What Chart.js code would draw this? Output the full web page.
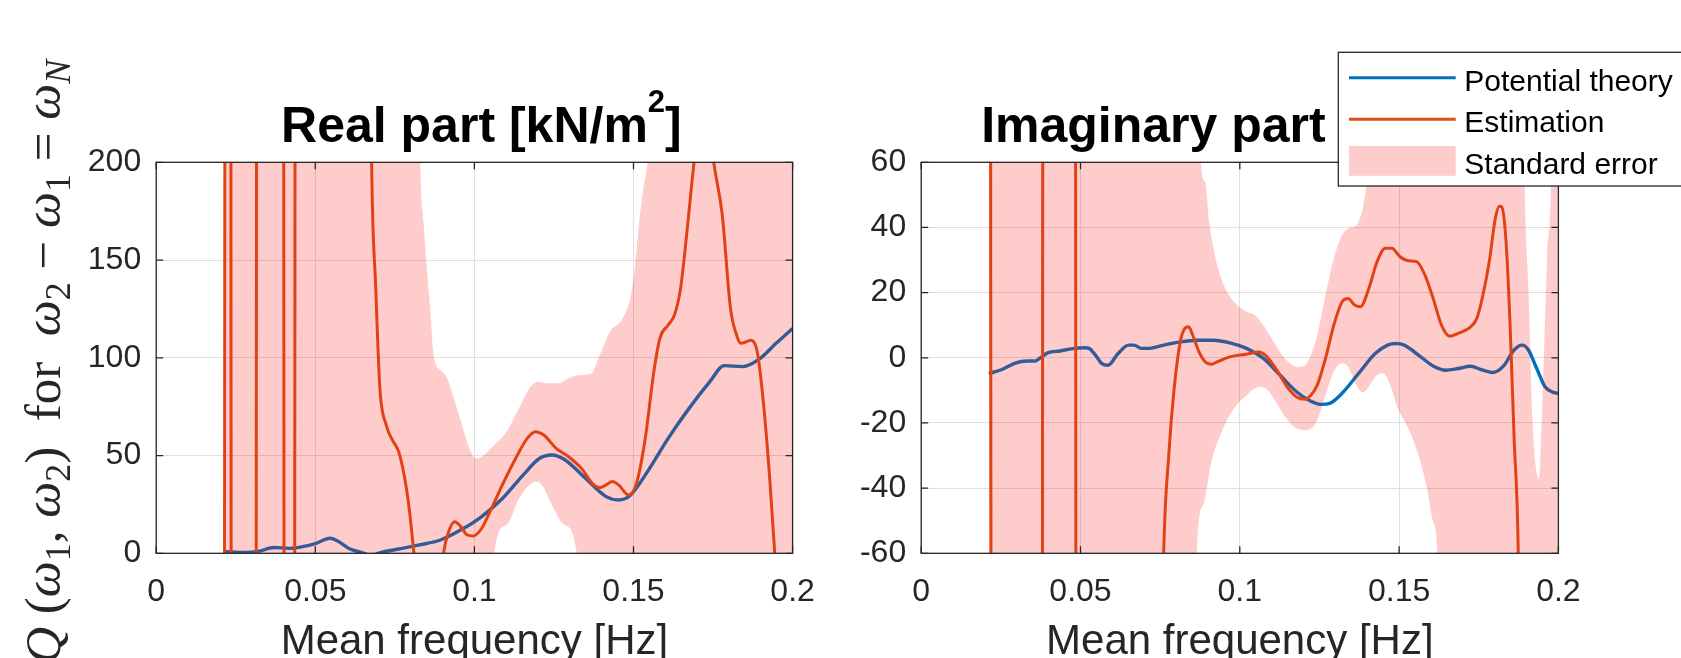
<!DOCTYPE html>
<html>
<head>
<meta charset="utf-8">
<script src="https://cdn.jsdelivr.net/npm/chart.js@4.4.1/dist/chart.umd.min.js"></script>
<style>
  html, body { margin: 0; padding: 0; background: #fff; }
  #wrap { position: relative; width: 1681px; height: 658px; overflow: hidden; background: #fff; }
  canvas { position: absolute; top: 0; }
  #real { left: 0; }
  #imag { left: 840px; }
</style>
</head>
<body>
<div id="wrap">
  <canvas id="real" width="840" height="700"></canvas>
  <canvas id="imag" width="841" height="700"></canvas>
</div>
<script>
// axis ticks
const xTicks = [0, 0.05, 0.1, 0.15, 0.2];
const xTickLabels = ['0', '0.05', '0.1', '0.15', '0.2'];
const realTicks = [0, 50, 100, 150, 200];
const imagTicks = [-60, -40, -20, 0, 20, 40, 60];
const seriesNames = ['Potential theory', 'Estimation', 'Standard error'];

// real part (freq in Hz, values in kN/m^2)
const realTheoryF = [0.0212, 0.0280, 0.0320, 0.0370, 0.0420, 0.0460, 0.0500, 0.0547, 0.0570, 0.0606, 0.0658, 0.0675, 0.0697, 0.0762, 0.0827, 0.0893, 0.0958, 0.1023, 0.1088, 0.1153, 0.1205, 0.1244, 0.1283, 0.1349, 0.1414, 0.1453, 0.1492, 0.1544, 0.1609, 0.1674, 0.1740, 0.1785, 0.1844, 0.1896, 0.1948, 0.2000];
const realTheoryV = [0.9, 0.4, 1, 3, 2.5, 3.4, 5, 7.7, 6.3, 2.5, -0.3, -1.5, 0, 2.2, 4.3, 6.8, 12, 18.8, 28, 40, 48.6, 50.3, 48, 38.4, 29, 27.3, 30, 41.8, 58.8, 74, 87.8, 96, 95.5, 99.4, 107.4, 115];

const realEstF = [0.0213, 0.0219, 0.0233, 0.0237, 0.0312, 0.0318, 0.0398, 0.0404, 0.0433, 0.0439, 0.0660, 0.0677, 0.0690, 0.0703, 0.0723, 0.0742, 0.0762, 0.0781, 0.0795, 0.0810, 0.0830, 0.0885, 0.0903, 0.0919, 0.0938, 0.0958, 0.0977, 0.0997, 0.1023, 0.1049, 0.1088, 0.1127, 0.1166, 0.1192, 0.1218, 0.1257, 0.1296, 0.1336, 0.1375, 0.1394, 0.1414, 0.1433, 0.1453, 0.1485, 0.1511, 0.1537, 0.1564, 0.1583, 0.1609, 0.1629, 0.1648, 0.1668, 0.1687, 0.1722, 0.1752, 0.1779, 0.1805, 0.1824, 0.1837, 0.1870, 0.1889, 0.1909, 0.1928, 0.1944, 0.1965, 0.2000];
const realEstV = [-300, 600, 600, -300, -300, 600, 600, -300, -300, 600, 500, 200, 135.5, 84.4, 65.6, 58, 52, 38.4, 23, 0, -30, -30, 0, 11, 16.2, 13.6, 9.4, 8.9, 12.8, 21.3, 35, 47.7, 58.8, 62.2, 60.5, 53.7, 49.4, 43.5, 35, 33.6, 35, 36.7, 35, 29.8, 36.7, 58.8, 93, 110, 116.8, 122, 135.5, 164.5, 195, 240, 200, 173, 125, 111.7, 107.4, 109, 103, 75.9, 38.4, 0, -60, -150];

const realUpperF = [0.0212, 0.0815, 0.0830, 0.0840, 0.0860, 0.0873, 0.0893, 0.0912, 0.0932, 0.0958, 0.0984, 0.1003, 0.1023, 0.1062, 0.1101, 0.1140, 0.1173, 0.1199, 0.1231, 0.1264, 0.1296, 0.1329, 0.1368, 0.1394, 0.1427, 0.1466, 0.1492, 0.1505, 0.1518, 0.1531, 0.1544, 0.1560, 0.2000];
const realUpperV = [400, 400, 200, 170, 127, 100, 93.8, 90.4, 81, 67.3, 53.7, 48.6, 49.4, 55.4, 62.2, 74.2, 84.4, 87.8, 87, 87, 89.5, 91.2, 92, 101.4, 113.4, 120.2, 132, 147.5, 169.6, 186.7, 200, 240, 400];
const realLowerF = [0.0212, 0.1040, 0.1062, 0.1101, 0.1140, 0.1173, 0.1192, 0.1212, 0.1244, 0.1283, 0.1322, 0.1345, 0.2000];
const realLowerV = [-200, -200, 0, 14.5, 28, 35, 36.7, 35, 24.7, 14.5, 0, -200, -200];

// imaginary part
const imagTheoryF = [0.0212, 0.0254, 0.0293, 0.0332, 0.0358, 0.0371, 0.0397, 0.0436, 0.0475, 0.0514, 0.0527, 0.0547, 0.0566, 0.0586, 0.0618, 0.0651, 0.0668, 0.0690, 0.0716, 0.0761, 0.0813, 0.0865, 0.0917, 0.0969, 0.1021, 0.1074, 0.1126, 0.1178, 0.1217, 0.1256, 0.1282, 0.1321, 0.1373, 0.1425, 0.1464, 0.1490, 0.1516, 0.1568, 0.1607, 0.1646, 0.1685, 0.1724, 0.1763, 0.1796, 0.1828, 0.1861, 0.1887, 0.1906, 0.1932, 0.1958, 0.1984, 0.2000];
const imagTheoryV = [-4.8, -3.6, -1.7, -1.0, -1.0, -0.2, 1.5, 2.1, 2.8, 3.1, 2.9, 0.8, -1.7, -2.3, 1.3, 3.9, 3.9, 2.9, 2.9, 3.9, 4.9, 5.4, 5.4, 4.6, 2.9, -0.2, -5.3, -10.4, -13, -14.3, -14, -10.9, -4.8, 1.3, 3.9, 4.4, 3.9, 0.3, -2.5, -3.8, -3.3, -2.6, -3.8, -4.5, -2.5, 2.4, 3.9, 2.4, -3.3, -8.9, -10.6, -10.9];

const imagEstF = [0.0216, 0.0222, 0.0378, 0.0384, 0.0482, 0.0488, 0.0745, 0.0761, 0.0777, 0.0794, 0.0813, 0.0824, 0.0839, 0.0852, 0.0872, 0.0891, 0.0911, 0.0930, 0.0969, 0.1021, 0.1060, 0.1080, 0.1113, 0.1152, 0.1178, 0.1204, 0.1223, 0.1243, 0.1269, 0.1295, 0.1321, 0.1340, 0.1360, 0.1379, 0.1405, 0.1431, 0.1457, 0.1477, 0.1503, 0.1529, 0.1555, 0.1581, 0.1607, 0.1633, 0.1659, 0.1685, 0.1718, 0.1744, 0.1763, 0.1783, 0.1802, 0.1815, 0.1822, 0.1835, 0.1848, 0.1861, 0.1874, 0.1890, 0.2000];
const imagEstV = [300, -300, -300, 300, 300, -300, -150, -60, -29.9, -9.4, 4.9, 8.5, 9.5, 7, 1.8, -1.2, -2.0, -1.2, 0.3, 1.1, 1.8, 0.8, -3.3, -9.4, -12, -12.7, -11.5, -8.4, -0.2, 10, 17.2, 18.2, 16.2, 15.7, 21.3, 29.5, 33.6, 33.6, 31, 29.8, 29.5, 25.4, 18.2, 10, 6.6, 7.5, 9, 12.1, 19.2, 29.5, 42.8, 46.5, 46.3, 36.6, 11, -24.8, -60, -200, -200];

const imagUpperF = [0.0212, 0.0870, 0.0878, 0.0891, 0.0904, 0.0924, 0.0950, 0.0982, 0.1021, 0.1047, 0.1074, 0.1100, 0.1126, 0.1152, 0.1178, 0.1204, 0.1223, 0.1243, 0.1269, 0.1295, 0.1321, 0.1340, 0.1366, 0.1386, 0.1405, 0.1412, 0.1425, 0.1880, 0.1893, 0.1906, 0.1919, 0.1939, 0.1951, 0.1965, 0.1978, 0.1990, 0.2000];
const imagUpperV = [200, 200, 60, 54, 41.7, 30.5, 22.3, 17.2, 14.1, 13.1, 10, 5.9, 1.8, -1.2, -2.8, -2.3, 0.8, 7, 19.2, 30.5, 37.6, 39.7, 40.7, 45.8, 56, 60, 200, 200, 60, 21.3, -19.6, -37, -9.4, 31.5, 60, 200, 200];
const imagLowerF = [0.0212, 0.0855, 0.0865, 0.0885, 0.0911, 0.0943, 0.0982, 0.1021, 0.1047, 0.1067, 0.1087, 0.1113, 0.1139, 0.1171, 0.1204, 0.1230, 0.1249, 0.1269, 0.1295, 0.1321, 0.1340, 0.1366, 0.1386, 0.1405, 0.1431, 0.1451, 0.1470, 0.1496, 0.1529, 0.1561, 0.1588, 0.1607, 0.1620, 0.1635, 0.2000];
const imagLowerV = [-200, -200, -60, -45.2, -31.9, -22.7, -15.5, -11.5, -9.4, -8.9, -9.9, -13.5, -17.6, -21.2, -22.2, -21.2, -17.6, -11.5, -4.3, -1.7, -2.8, -8.4, -10.6, -8.9, -5.3, -4.8, -7.9, -15.5, -21.7, -29.9, -40.1, -50.4, -60, -200, -200];

// colours and fonts
const BLUE = '#0072BD';
const ORANGE = '#D95319';
const BAND = 'rgba(255,0,0,0.2)';
const AXIS = '#262626';
const GRID = '#dfdfdf';
const SANS = '"Liberation Sans", Arial, Helvetica, sans-serif';
const SERIF = '"Liberation Serif", "DejaVu Serif", serif';

function pts(f, v) {
  return f.map((x, i) => ({ x: x, y: v[i] }));
}

// draw a row of text pieces with their own font / vertical shift
function drawRuns(ctx, runs, x, y, align) {
  let w = 0;
  runs.forEach(r => { ctx.font = r.font; w += ctx.measureText(r.text).width; });
  let cx = align === 'center' ? x - w / 2 : x;
  runs.forEach(r => {
    ctx.font = r.font;
    ctx.fillText(r.text, cx, y + (r.dy || 0));
    cx += ctx.measureText(r.text).width;
  });
}

// matlab style box with inward ticks on all four sides
const frame = {
  id: 'frame',
  afterDatasetsDraw(chart) {
    const { ctx, chartArea: a, scales: { x, y } } = chart;
    const len = 7;
    ctx.save();
    ctx.strokeStyle = AXIS;
    ctx.lineWidth = 1.3;
    ctx.beginPath();
    x.ticks.forEach(t => {
      const px = x.getPixelForValue(t.value);
      ctx.moveTo(px, a.bottom); ctx.lineTo(px, a.bottom - len);
      ctx.moveTo(px, a.top); ctx.lineTo(px, a.top + len);
    });
    y.ticks.forEach(t => {
      const py = y.getPixelForValue(t.value);
      ctx.moveTo(a.left, py); ctx.lineTo(a.left + len, py);
      ctx.moveTo(a.right, py); ctx.lineTo(a.right - len, py);
    });
    ctx.stroke();
    ctx.strokeRect(a.left, a.top, a.right - a.left, a.bottom - a.top);
    ctx.restore();
  }
};

function heading(text) {
  const big = 'bold 50px ' + SANS, sup = 'bold 31px ' + SANS;
  return {
    id: 'heading',
    afterDraw(chart) {
      const { ctx, chartArea: a } = chart;
      ctx.save();
      ctx.fillStyle = '#000';
      ctx.textBaseline = 'alphabetic';
      drawRuns(ctx, [
        { text: text + ' [kN/m', font: big },
        { text: '2', font: sup, dy: -30 },
        { text: ']', font: big }
      ], (a.left + a.right) / 2 + 7, 141.7, 'center');
      ctx.restore();
    }
  };
}

const yLabel = {
  id: 'yLabel',
  afterDraw(chart) {
    const { ctx, chartArea: a } = chart;
    const it = 'italic 51px ' + SERIF, rm = '51px ' + SERIF;
    const sb = '36px ' + SERIF, sbi = 'italic 36px ' + SERIF;
    ctx.save();
    ctx.translate(60, (a.top + a.bottom) / 2 + 4);
    ctx.rotate(-Math.PI / 2);
    ctx.fillStyle = AXIS;
    ctx.textBaseline = 'alphabetic';
    drawRuns(ctx, [
      { text: 'Q', font: it },
      { text: ' (', font: rm },
      { text: 'ω', font: it }, { text: '1', font: sb, dy: 10 },
      { text: ', ', font: rm },
      { text: 'ω', font: it }, { text: '2', font: sb, dy: 10 },
      { text: ')', font: rm },
      { text: '  for  ', font: rm },
      { text: 'ω', font: it }, { text: '2', font: sb, dy: 10 },
      { text: ' − ', font: rm },
      { text: 'ω', font: it }, { text: '1', font: sb, dy: 10 },
      { text: ' = ', font: rm },
      { text: 'ω', font: it }, { text: 'N', font: sbi, dy: 10 }
    ], 0, 0, 'center');
    ctx.restore();
  }
};

const legendBox = {
  id: 'legendBox',
  afterDraw(chart) {
    const { ctx } = chart;
    const ds = chart.data.datasets;
    const left = 498.3, top = 52.3;
    ctx.save();
    ctx.fillStyle = '#fff';
    ctx.fillRect(left, top, 400, 133.7);
    ctx.strokeStyle = AXIS;
    ctx.lineWidth = 1.3;
    ctx.strokeRect(left, top, 400, 133.7);
    ctx.font = '30px ' + SANS;
    ctx.textBaseline = 'alphabetic';
    [0, 1, 2].forEach(i => {
      const ry = 77.7 + i * 41.6;
      if (i < 2) {
        ctx.strokeStyle = ds[i].borderColor;
        ctx.lineWidth = 3;
        ctx.beginPath();
        ctx.moveTo(left + 10.7, ry);
        ctx.lineTo(left + 117.4, ry);
        ctx.stroke();
      } else {
        ctx.fillStyle = ds[2].backgroundColor;
        ctx.fillRect(left + 10.7, ry - 14.9, 106.7, 29.8);
      }
      ctx.fillStyle = '#000';
      ctx.fillText(seriesNames[i], left + 126, ry + 12.8);
    });
    ctx.restore();
  }
};

function makeChart(id, o) {
  return new Chart(document.getElementById(id), {
    type: 'line',
    data: {
      datasets: [
        { label: seriesNames[0], data: pts(o.theoryF, o.theoryV), borderColor: BLUE, borderWidth: 3.4, order: 2, clip: 0 },
        { label: seriesNames[1], data: pts(o.estF, o.estV), borderColor: ORANGE, borderWidth: 3, order: 1, clip: 0 },
        { label: seriesNames[2], data: pts(o.upF, o.upV), borderColor: 'transparent', borderWidth: 0, backgroundColor: BAND, fill: '+1', order: 0 },
        { label: 'lower', data: pts(o.loF, o.loV), borderColor: 'transparent', borderWidth: 0, fill: false, order: 0 }
      ]
    },
    options: {
      responsive: false,
      animation: false,
      events: [],
      elements: { point: { radius: 0 }, line: { cubicInterpolationMode: 'monotone' } },
      layout: { padding: { top: 162.3, right: o.padRight, bottom: 0, left: 0 } },
      scales: {
        x: {
          type: 'linear', min: 0, max: 0.2,
          afterBuildTicks: s => { s.ticks = xTicks.map(v => ({ value: v })); },
          afterFit: s => { s.height = 700 - 553.3; },
          grid: { color: GRID, lineWidth: 1, drawTicks: false },
          border: { display: false },
          ticks: {
            color: AXIS, font: { family: SANS, size: 32 }, padding: 19.5,
            maxRotation: 0, autoSkip: false,
            callback: (v, i) => xTickLabels[i]
          },
          title: {
            display: true, text: 'Mean frequency [Hz]', color: AXIS,
            font: { family: SANS, size: 42 }, padding: { top: 0, bottom: 32.3 }
          }
        },
        y: {
          type: 'linear', min: o.yTicks[0], max: o.yTicks[o.yTicks.length - 1],
          afterBuildTicks: s => { s.ticks = o.yTicks.map(v => ({ value: v })); },
          afterFit: s => { s.width = o.axisLeft; },
          grid: { color: GRID, lineWidth: 1, drawTicks: false },
          border: { display: false },
          ticks: { color: AXIS, font: { family: SANS, size: 32 }, padding: 15, callback: v => String(v) }
        }
      },
      plugins: { legend: { display: false }, tooltip: { enabled: false }, title: { display: false } }
    },
    plugins: o.plugins
  });
}

makeChart('real', {
  theoryF: realTheoryF, theoryV: realTheoryV,
  estF: realEstF, estV: realEstV,
  upF: realUpperF, upV: realUpperV,
  loF: realLowerF, loV: realLowerV,
  yTicks: realTicks, axisLeft: 156.2, padRight: 840 - 792.6,
  plugins: [frame, heading('Real part'), yLabel]
});

makeChart('imag', {
  theoryF: imagTheoryF, theoryV: imagTheoryV,
  estF: imagEstF, estV: imagEstV,
  upF: imagUpperF, upV: imagUpperV,
  loF: imagLowerF, loV: imagLowerV,
  yTicks: imagTicks, axisLeft: 81.2, padRight: 841 - 718.4,
  plugins: [frame, heading('Imaginary part'), legendBox]
});
</script>
</body>
</html>
